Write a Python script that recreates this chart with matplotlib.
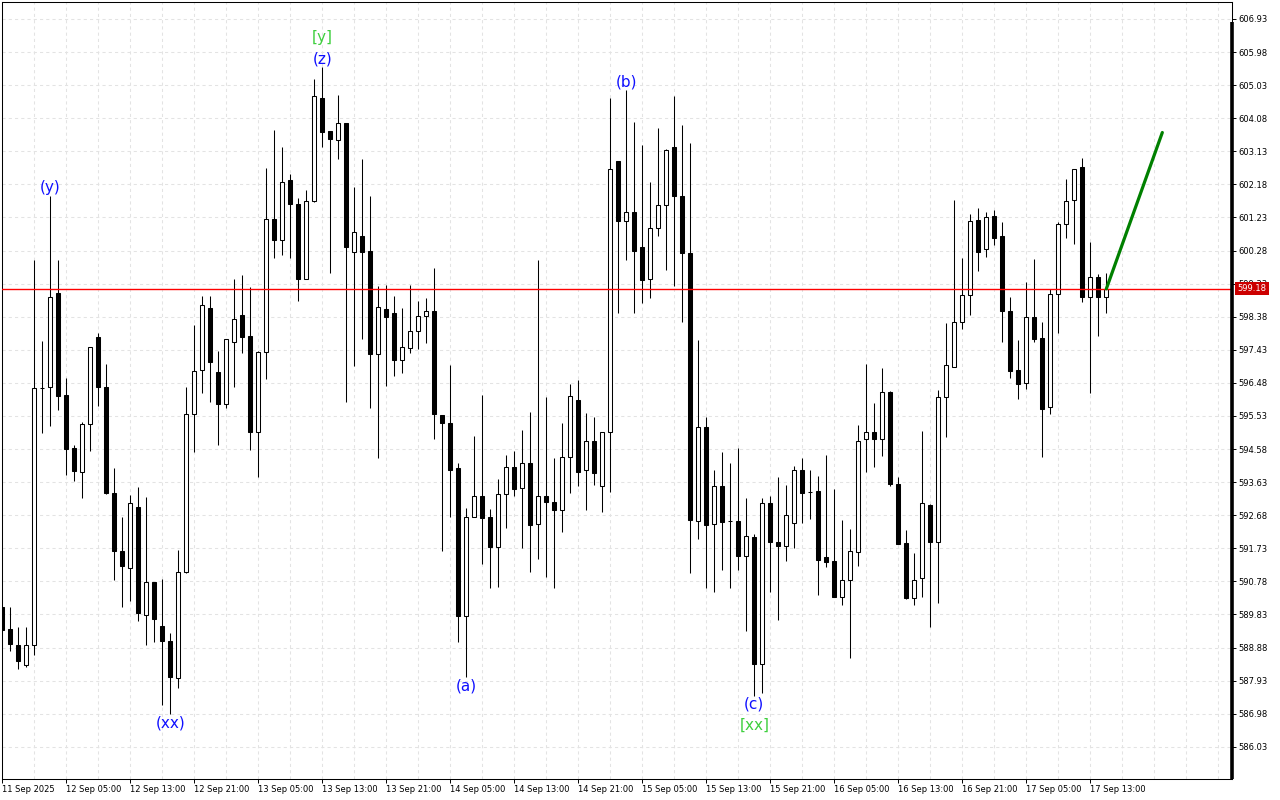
import numpy as np
import matplotlib
matplotlib.use('Agg')
import matplotlib.pyplot as plt
import matplotlib.transforms as mtransforms

# hourly candles, 11 Sep 21:00 -> 17 Sep 15:00
opens = [590.05, 589.40, 588.94, 588.37, 588.96, 596.34, 596.35, 599.05, 596.14, 594.61,
         593.92, 595.31, 597.80, 596.37, 593.33, 591.64, 591.16, 592.91, 589.80, 590.76,
         589.50, 589.07, 588.00, 591.06, 595.60, 596.85, 598.62, 596.78, 595.86, 597.66,
         598.42, 597.82, 595.08, 597.38, 601.20, 600.58, 602.30, 601.61, 599.45, 601.69,
         604.65, 603.71, 603.45, 603.93, 600.23, 600.70, 600.27, 597.30, 598.59, 598.50,
         597.15, 597.47, 597.96, 598.39, 598.53, 595.55, 595.34, 594.04, 589.79, 592.63,
         593.22, 592.62, 591.77, 593.30, 594.07, 593.45, 594.17, 592.44, 593.24, 593.05,
         592.83, 594.36, 596.00, 593.98, 594.80, 593.51, 595.06, 602.86, 601.12, 601.39,
         600.37, 599.46, 600.93, 601.59, 603.24, 601.84, 600.22, 592.52, 595.20, 592.42,
         593.51, 592.50, 592.50, 591.51, 592.05, 588.41, 593.02, 591.90, 591.80, 592.46,
         593.97, 593.35, 593.37, 591.48, 591.36, 590.34, 590.82, 591.61, 594.86, 595.06,
         594.88, 596.23, 593.59, 591.87, 590.31, 590.87, 592.97, 591.92, 596.06, 596.95,
         598.22, 599.00, 601.16, 600.32, 601.26, 600.70, 598.55, 596.85, 596.47, 598.36,
         597.76, 595.78, 599.02, 601.03, 601.73, 602.67, 598.94, 599.53, 598.94]
highs = [590.05, 590.04, 589.48, 589.48, 600.02, 597.69, 601.86, 600.02, 596.63, 594.69,
         595.37, 597.52, 597.92, 597.01, 594.04, 592.64, 593.26, 593.48, 593.19, 590.76,
         590.86, 589.31, 591.68, 596.35, 598.15, 598.97, 598.97, 597.39, 597.74, 599.46,
         599.58, 599.24, 597.39, 602.64, 603.74, 603.25, 602.48, 601.78, 602.02, 605.21,
         605.54, 603.71, 604.75, 603.93, 602.11, 602.91, 601.86, 599.26, 599.29, 598.97,
         598.62, 599.29, 598.83, 598.93, 599.77, 595.55, 596.99, 594.17, 592.90, 594.95,
         596.13, 592.85, 593.71, 594.42, 594.52, 595.14, 595.65, 600.01, 596.06, 594.31,
         595.34, 596.46, 596.56, 595.62, 595.51, 595.06, 604.65, 602.86, 604.89, 603.97,
         603.31, 602.24, 603.80, 603.21, 604.71, 603.89, 603.36, 597.70, 595.50, 593.98,
         594.50, 594.18, 594.62, 593.16, 592.15, 593.16, 593.23, 593.79, 593.55, 594.09,
         594.31, 593.98, 593.80, 594.41, 593.43, 592.54, 592.28, 595.27, 597.02, 595.91,
         596.90, 596.25, 593.79, 592.25, 591.58, 595.11, 592.99, 596.27, 598.21, 601.73,
         600.08, 601.33, 601.49, 601.38, 601.45, 601.09, 598.94, 597.71, 599.37, 600.03,
         598.22, 599.17, 601.11, 602.33, 602.61, 602.93, 600.52, 599.61, 599.63]
lows = [589.36, 588.78, 588.27, 588.32, 588.66, 595.05, 595.24, 595.70, 593.84, 593.66,
        593.16, 594.51, 595.81, 593.28, 590.81, 590.04, 590.21, 589.63, 588.94, 589.04,
        587.23, 586.97, 587.71, 591.03, 594.49, 596.20, 595.94, 594.71, 595.77, 596.37,
        597.33, 594.55, 593.79, 596.59, 600.07, 600.15, 600.07, 598.84, 599.45, 601.68,
        603.26, 599.64, 602.91, 595.94, 596.97, 597.73, 595.75, 594.31, 596.40, 596.67,
        596.77, 597.33, 597.44, 597.63, 594.86, 591.66, 592.63, 589.04, 588.02, 592.63,
        591.27, 590.58, 590.62, 592.30, 593.23, 591.75, 591.04, 591.41, 590.91, 590.58,
        592.20, 593.33, 593.52, 592.83, 593.54, 592.77, 593.34, 598.50, 600.02, 598.50,
        598.78, 598.93, 600.69, 599.72, 599.25, 598.23, 591.02, 591.99, 590.58, 590.46,
        591.10, 590.58, 591.10, 589.34, 587.50, 587.58, 590.48, 589.67, 591.37, 591.75,
        592.45, 592.57, 590.39, 591.20, 590.34, 590.10, 588.59, 591.23, 593.93, 594.07,
        594.39, 593.53, 591.85, 590.26, 590.10, 590.34, 589.46, 590.15, 594.93, 596.95,
        598.03, 598.43, 599.70, 600.09, 600.44, 597.64, 596.63, 596.01, 596.29, 597.64,
        594.34, 595.58, 597.90, 600.63, 600.46, 598.81, 596.18, 597.84, 598.48]
closes = [589.38, 588.99, 588.48, 588.96, 596.32, 596.34, 598.94, 596.10, 594.59, 593.96,
          595.31, 597.51, 596.37, 593.32, 591.66, 591.21, 593.04, 589.88, 590.76, 589.70,
          589.07, 588.02, 591.06, 595.60, 596.83, 598.73, 597.09, 595.86, 597.73, 598.32,
          597.81, 595.08, 597.38, 601.20, 600.58, 602.24, 601.61, 599.45, 601.69, 604.71,
          603.69, 603.47, 603.93, 600.39, 600.81, 600.25, 597.30, 598.65, 598.38, 597.15,
          597.52, 597.96, 598.39, 598.53, 595.60, 595.34, 593.99, 589.79, 592.64, 593.24,
          592.61, 591.77, 593.30, 594.07, 593.42, 594.17, 592.41, 593.24, 593.05, 592.83,
          594.36, 596.09, 593.93, 594.80, 593.89, 595.06, 602.63, 601.12, 601.39, 600.26,
          599.42, 600.93, 601.59, 603.18, 601.86, 600.20, 592.54, 595.20, 592.40, 593.51,
          592.48, 592.50, 591.51, 592.07, 588.41, 593.03, 591.90, 591.80, 592.68, 593.97,
          593.33, 593.35, 591.39, 591.34, 590.34, 590.82, 591.65, 594.81, 595.06, 594.88,
          596.23, 593.57, 591.85, 590.31, 590.82, 593.02, 591.92, 596.06, 596.99, 598.22,
          599.00, 601.13, 600.23, 601.24, 600.63, 598.53, 596.83, 596.44, 598.38, 597.74,
          595.72, 599.02, 601.03, 601.71, 602.61, 598.94, 599.53, 598.94, 599.18]

price_ticks = [606.93, 605.98, 605.03, 604.08, 603.13, 602.18, 601.23, 600.28, 599.33,
               598.38, 597.43, 596.48, 595.53, 594.58, 593.63, 592.68, 591.73, 590.78,
               589.83, 588.88, 587.93, 586.98, 586.03]
time_labels = ['11 Sep 2025', '12 Sep 05:00', '12 Sep 13:00', '12 Sep 21:00',
               '13 Sep 05:00', '13 Sep 13:00', '13 Sep 21:00', '14 Sep 05:00',
               '14 Sep 13:00', '14 Sep 21:00', '15 Sep 05:00', '15 Sep 13:00',
               '15 Sep 21:00', '16 Sep 05:00', '16 Sep 13:00', '16 Sep 21:00',
               '17 Sep 05:00', '17 Sep 13:00']

current_price = 599.18
# projection line (bar index, price)
proj_x = [138, 145]
proj_y = [599.18, 603.67]

# wave labels: (bar, text, colour, above/below, stack level)
wave_labels = [(6, '(y)', 'blue', 'top', 0), (21, '(xx)', 'blue', 'bottom', 0),
               (40, '(z)', 'blue', 'top', 0), (40, '[y]', 'green', 'top', 1),
               (58, '(a)', 'blue', 'bottom', 0), (78, '(b)', 'blue', 'top', 0),
               (94, '(c)', 'blue', 'bottom', 0), (94, '[xx]', 'green', 'bottom', 1)]

o = np.array(opens); h = np.array(highs); l = np.array(lows); c = np.array(closes)
idx = np.arange(len(o))
up = c >= o

fig = plt.figure(figsize=(12.8, 8), dpi=100)
ax = fig.add_axes([2/1280, 21/800, 1230/1280, 777/800])
ax.set_xlim(-0.04, 153.71)
ax.set_ylim(585.104, 607.418)

# grid
ax.set_yticks(price_ticks)
ax.set_yticklabels([f'{p:.2f}' for p in price_ticks])
ax.set_xticks(np.arange(0, 8 * len(time_labels), 8))
ax.set_xticklabels(time_labels, ha='left')
ax.set_xticks(np.arange(0, 154, 4), minor=True)
ax.grid(True, which='both', axis='x', color='#e3e3e3', linestyle=(0, (3, 3)), linewidth=0.75)
ax.grid(True, which='major', axis='y', color='#e3e3e3', linestyle=(0, (3, 3)), linewidth=0.75)
ax.set_axisbelow(True)

ax.yaxis.tick_right()
ax.tick_params(axis='y', which='major', length=3, width=0.7, pad=1.5, labelsize=6, colors='black')
ax.tick_params(axis='x', which='major', length=3, width=0.7, pad=1.5, labelsize=6, colors='black')
ax.tick_params(axis='x', which='minor', length=0)

for s in ['left', 'top', 'bottom', 'right']:
    ax.spines[s].set_linewidth(0.75)
    ax.spines[s].set_color('black')
ax.plot([1.0, 1.0], [0, (779 - 22) / 777], transform=ax.transAxes, color='black',
        lw=2.6, clip_on=False, zorder=6, solid_capstyle='butt')

# candles
ax.vlines(idx, l, h, color='black', linewidth=0.75, zorder=2)
body_bot = np.minimum(o, c)
body_h = np.maximum(np.abs(c - o), 0.001)
ax.bar(idx[up], body_h[up], bottom=body_bot[up], width=0.5, color='white',
       edgecolor='black', linewidth=0.75, zorder=3)
ax.bar(idx[~up], body_h[~up], bottom=body_bot[~up], width=0.5, color='black',
       edgecolor='black', linewidth=0.75, zorder=3)

# current price line and tag
ax.axhline(current_price, color='#ff0000', linewidth=1.0, zorder=4)
trans = mtransforms.blended_transform_factory(ax.transAxes, ax.transData)
ax.text(1.0045, current_price, f'{current_price:.2f}', transform=trans, fontsize=6,
        color='white', va='center', ha='left', zorder=7, clip_on=False,
        bbox=dict(boxstyle='square,pad=0.25', fc='#cc0000', ec='none'))

# projection
ax.plot(proj_x, proj_y, color='#008000', linewidth=2.3, zorder=5, solid_capstyle='round')

# wave labels
colors = {'blue': '#1010ff', 'green': '#3ecf3e'}
for bar, txt, col, side, lvl in wave_labels:
    if side == 'top':
        yv, off, va = h[bar], 1 + lvl * 21, 'bottom'
    else:
        yv, off, va = l[bar], -(1 + lvl * 21), 'top'
    ax.annotate(txt, (bar, yv), xytext=(0, off), textcoords='offset pixels',
                ha='center', va=va, fontsize=11, color=colors[col], zorder=6)

fig.savefig('out.png', dpi=100)
